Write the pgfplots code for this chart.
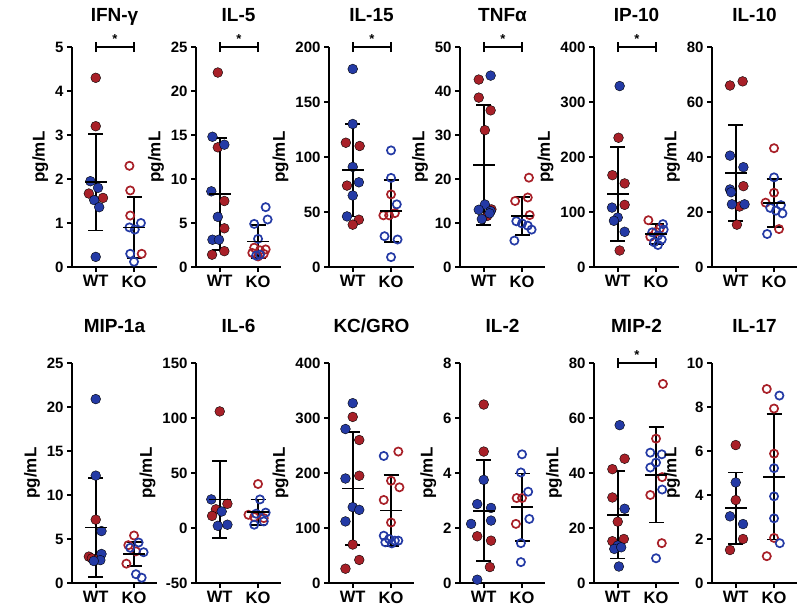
\documentclass[border=0pt]{standalone}
\usepackage{fontspec}
\setmainfont{Liberation Sans}
\usepackage{pgfplots}
\pgfplotsset{compat=1.18}
\definecolor{myblue}{RGB}{36,58,165}
\definecolor{myred}{RGB}{168,32,40}
\pgfplotsset{
  panel/.style={
    scale only axis, width=85pt, height=220pt, anchor=south west,
    axis lines=left, axis line style={-, line width=2.3pt},
    xmin=-0.62, xmax=1.6, xtick={0,1}, xticklabels={WT,KO},
    xtick pos=bottom, ytick pos=left, tick align=outside,
    major tick length=5pt,
    every tick/.style={black, line width=2.2pt},
    clip=false,
    ylabel={pg/mL},
    ylabel style={font=\bfseries\fontsize{17}{17}\selectfont},
    yticklabel style={font=\bfseries\fontsize{15}{15}\selectfont},
    xticklabel style={font=\bfseries\fontsize{16.5}{16.5}\selectfont},
    /pgf/number format/assume math mode=true,
    title style={font=\bfseries\fontsize{19}{19}\selectfont, at={(0.5,1)}, anchor=base, yshift=20pt},
  },
  bottomrow/.style={title style={yshift=5pt}},
  wtb/.style={only marks, mark=*, mark size=4.9pt, mark options={draw=none, fill=myblue}},
  wtr/.style={only marks, mark=*, mark size=4.9pt, mark options={draw=none, fill=myred}},
  kob/.style={only marks, mark=o, mark size=4.1pt, mark options={draw=myblue, line width=1.7pt, fill=none}},
  kor/.style={only marks, mark=o, mark size=4.1pt, mark options={draw=myred, line width=1.7pt, fill=none}},
  msd/.style={only marks, black, line width=1.8pt, mark=-, mark size=11pt,
    error bars/.cd, y dir=both, y explicit,
    error bar style={line width=1.8pt, black},
    error mark options={rotate=90, mark size=7.5pt, line width=1.8pt, black}},
}
\newcommand{\sig}[1]{%
  \draw[line width=1.8pt] (axis cs:0,#1) -- (axis cs:1,#1);
  \draw[line width=1.8pt] ([yshift=-5pt]axis cs:0,#1) -- ([yshift=5pt]axis cs:0,#1);
  \draw[line width=1.8pt] ([yshift=-5pt]axis cs:1,#1) -- ([yshift=5pt]axis cs:1,#1);
  \node[anchor=south, font=\bfseries\fontsize{13}{13}\selectfont, inner sep=0pt] at ([yshift=3pt]axis cs:0.5,#1) {*};}
\begin{document}
\begin{tikzpicture}
\path (0pt,0pt) rectangle (800pt,-611pt);
% ---------- IFN-gamma
\begin{axis}[panel, at={(72pt,-267pt)}, title={IFN-γ}, ymin=0, ymax=5, ytick={0,1,2,3,4,5}]
\addplot[wtr] coordinates {(0,4.3) (0,3.2) (-0.18,1.67) (0.19,1.57)};
\addplot[wtb] coordinates {(-0.14,1.95) (0.06,1.8) (-0.04,1.52) (0.09,1.36) (0,0.23)};
\addplot[kor] coordinates {(0.88,2.3) (0.9,1.74) (0.9,1.17) (1.2,0.3)};
\addplot[kob] coordinates {(1.18,1.0) (0.88,0.9) (1.02,0.85) (0.9,0.3) (1.0,0.12)};
\addplot[msd] coordinates {(0,1.93) +- (0,1.1) (1,0.9) +- (0,0.7)};
\sig{5}
\end{axis}
% ---------- IL-5
\begin{axis}[panel, at={(196pt,-267pt)}, title={IL-5}, ymin=0, ymax=25, ytick={0,5,10,15,20,25}]
\addplot[wtr] coordinates {(-0.05,22.1) (-0.05,13.6) (0.12,7.5) (0.12,4.4) (0.12,1.8) (-0.2,1.4)};
\addplot[wtb] coordinates {(-0.19,14.8) (0.12,13.9) (-0.22,8.6) (-0.05,5.7) (-0.19,3.1) (-0.02,3.1)};
\addplot[kor] coordinates {(0.9,2.2) (1.2,2.0) (1.05,1.9) (0.85,1.6) (1.15,1.5) (1.0,1.2)};
\addplot[kob] coordinates {(1.2,6.8) (0.9,4.9) (1.25,5.4) (1.0,3.2) (1.05,1.4) (0.95,1.3)};
\addplot[msd] coordinates {(0,8.3) +- (0,6.4) (1,2.9) +- (0,1.9)};
\sig{25}
\end{axis}
% ---------- IL-15
\begin{axis}[panel, at={(329pt,-267pt)}, title={IL-15}, ymin=0, ymax=200, ytick={0,50,100,150,200}]
\addplot[wtr] coordinates {(-0.18,113) (0.18,110) (-0.15,74) (0.16,43) (0,38.5)};
\addplot[wtb] coordinates {(0,180) (0,130) (0,91) (0.16,77) (0,65) (-0.15,46)};
\addplot[kor] coordinates {(1,66) (0.8,47) (0.95,47) (1.1,49)};
\addplot[kob] coordinates {(1,106) (1,81) (1.15,57) (0.83,28) (1.17,25) (1,9)};
\addplot[msd] coordinates {(0,88) +- (0,42) (1,51) +- (0,28)};
\sig{200}
\end{axis}
% ---------- TNF alpha
\begin{axis}[panel, at={(460pt,-267pt)}, title={TNFα}, ymin=0, ymax=50, ytick={0,10,20,30,40,50}]
\addplot[wtr] coordinates {(-0.13,42.6) (-0.13,38.5) (0.18,35.6) (0.03,31.1) (0.2,13.1) (0.09,11.6)};
\addplot[wtb] coordinates {(0.18,43.5) (0.03,14.2) (-0.13,13.0) (0.18,12.7) (-0.05,10.9) (0.15,12.2)};
\addplot[kor] coordinates {(1.18,20.3) (0.82,15.0) (1.15,15.8) (1.2,11.8)};
\addplot[kob] coordinates {(0.85,10.4) (1.0,9.9) (1.15,9.4) (1.25,8.5) (0.8,6.0)};
\addplot[msd] coordinates {(0,23.2) +- (0,13.7) (1,11.6) +- (0,4.3)};
\sig{50}
\end{axis}
% ---------- IP-10
\begin{axis}[panel, at={(594pt,-267pt)}, title={IP-10}, ymin=0, ymax=400, ytick={0,100,200,300,400}]
\addplot[wtr] coordinates {(0.02,235) (-0.14,167) (0.18,152) (0.18,113) (0.05,30)};
\addplot[wtb] coordinates {(0.05,329) (-0.15,108) (0.0,90) (-0.1,84) (0.18,64)};
\addplot[kor] coordinates {(0.8,85) (1.1,70) (1.0,64) (0.85,55)};
\addplot[kob] coordinates {(1.18,78) (1.2,68) (0.9,63) (1.05,57) (1.15,50) (0.95,45) (1.05,40)};
\addplot[msd] coordinates {(0,133) +- (0,85) (1,60) +- (0,18)};
\sig{400}
\end{axis}
% ---------- IL-10
\begin{axis}[panel, at={(712pt,-267pt)}, title={IL-10}, ymin=0, ymax=80, ytick={0,20,40,60,80}]
\addplot[wtr] coordinates {(-0.15,66) (0.18,67.5) (0.2,29.4) (0.1,22) (0.03,15.4)};
\addplot[wtb] coordinates {(-0.15,40.5) (0.2,36.3) (-0.15,28.2) (-0.12,27.2) (-0.1,22.8) (0.23,22.8)};
\addplot[kor] coordinates {(1,43.2) (1,27) (0.78,23.4) (1.13,13.8)};
\addplot[kob] coordinates {(1,32.6) (1.18,22.5) (0.9,21.5) (1.05,20.5) (1.22,19.5) (0.82,12)};
\addplot[msd] coordinates {(0,34.2) +- (0,17.4) (1,23.2) +- (0,8.7)};
\end{axis}
% ================= bottom row
% ---------- MIP-1a
\begin{axis}[panel, bottomrow, at={(72pt,-583pt)}, title={MIP-1a}, ymin=0, ymax=25, ytick={0,5,10,15,20,25}]
\addplot[wtr] coordinates {(0,7.2) (-0.18,3.0) (-0.1,2.8) (0.05,2.7)};
\addplot[wtb] coordinates {(0,20.9) (0,12.2) (0.15,5.9) (0.15,3.3) (0.12,2.6) (-0.05,2.5)};
\addplot[kor] coordinates {(1.0,5.4) (0.85,4.3) (1.05,3.6) (0.8,2.2)};
\addplot[kob] coordinates {(1.12,4.6) (0.9,4.0) (1.25,3.5) (1.05,1.0) (1.2,0.6)};
\addplot[msd] coordinates {(0,6.3) +- (0,5.6) (1,3.3) +- (0,1.4)};
\end{axis}
% ---------- IL-6
\begin{axis}[panel, bottomrow, at={(196pt,-583pt)}, title={IL-6}, ymin=-50, ymax=150, ytick={-50,0,50,100,150}]
\addplot[wtr] coordinates {(0,106) (0.2,22) (-0.1,17) (-0.2,11)};
\addplot[wtb] coordinates {(-0.22,26) (0.05,15) (0.2,3) (-0.05,2)};
\addplot[kor] coordinates {(1,40) (0.75,12) (0.9,10) (1.15,9)};
\addplot[kob] coordinates {(1.05,26) (1.2,14) (0.95,13) (0.9,3) (1.15,6)};
\addplot[msd] coordinates {(0,26) +- (0,35) (1,14.5) +- (0,11.5)};
\end{axis}
% ---------- KC/GRO
\begin{axis}[panel, bottomrow, at={(329pt,-583pt)}, title={KC/GRO}, ymin=0, ymax=400, ytick={0,100,200,300,400}]
\addplot[wtr] coordinates {(0,302) (0.17,260) (0.17,195) (0,70) (0.17,42) (-0.19,26)};
\addplot[wtb] coordinates {(0,327) (-0.19,280) (-0.19,190) (0,138) (0.17,133) (-0.19,112)};
\addplot[kor] coordinates {(1.19,239) (1,186) (1.22,174) (0.81,151) (1,110)};
\addplot[kob] coordinates {(0.81,231) (0.81,86) (0.95,80) (1.1,77) (0.85,74) (1.02,72) (1.19,77)};
\addplot[msd] coordinates {(0,172) +- (0,103) (1,132) +- (0,65)};
\end{axis}
% ---------- IL-2
\begin{axis}[panel, bottomrow, at={(460pt,-583pt)}, title={IL-2}, ymin=0, ymax=8, ytick={0,2,4,6,8}]
\addplot[wtr] coordinates {(0,6.49) (0,4.78) (-0.17,1.70) (0.19,1.54) (0.16,0.58)};
\addplot[wtb] coordinates {(0,3.75) (-0.17,2.87) (0.19,2.73) (-0.33,2.15) (0.19,2.27) (-0.17,0.12)};
\addplot[kor] coordinates {(0.86,3.09) (1.0,3.09) (0.84,2.15)};
\addplot[kob] coordinates {(1,4.68) (0.97,4.02) (1.16,3.32) (1.19,2.33) (0.97,1.45) (0.97,0.76)};
\addplot[msd] coordinates {(0,2.63) +- (0,1.83) (1,2.75) +- (0,1.23)};
\end{axis}
% ---------- MIP-2
\begin{axis}[panel, bottomrow, at={(594pt,-583pt)}, title={MIP-2}, ymin=0, ymax=80, ytick={0,20,40,60,80}]
\addplot[wtr] coordinates {(0.18,45.2) (-0.14,41.4) (-0.14,31.1) (0,22.3) (-0.14,15.2) (0.16,16)};
\addplot[wtb] coordinates {(0.05,57.4) (0.18,27) (0,13.6) (-0.09,12.4) (0.09,13) (0.03,6)};
\addplot[kor] coordinates {(1.18,72.4) (1,52.5) (1.16,38.5) (0.85,32) (1.15,14.5)};
\addplot[kob] coordinates {(0.85,47.4) (1.15,46.8) (1,43.8) (0.85,42) (1.16,34) (1,9)};
\addplot[msd] coordinates {(0,24.8) +- (0,15.9) (1,39.3) +- (0,17.3)};
\sig{80}
\end{axis}
% ---------- IL-17
\begin{axis}[panel, bottomrow, at={(712pt,-583pt)}, title={IL-17}, ymin=0, ymax=10, ytick={0,2,4,6,8,10}]
\addplot[wtr] coordinates {(0,6.27) (0,3.77) (0.19,2.0) (-0.15,1.5)};
\addplot[wtb] coordinates {(0,4.57) (-0.15,3.03) (0.19,2.68)};
\addplot[kor] coordinates {(0.81,8.82) (1,7.93) (1,5.88) (1,2.05) (0.81,1.22)};
\addplot[kob] coordinates {(1.14,8.52) (1,5.22) (1,3.94) (1,2.94) (1.15,1.81)};
\addplot[msd] coordinates {(0,3.4) +- (0,1.62) (1,4.83) +- (0,2.85)};
\end{axis}
\end{tikzpicture}
\end{document}
